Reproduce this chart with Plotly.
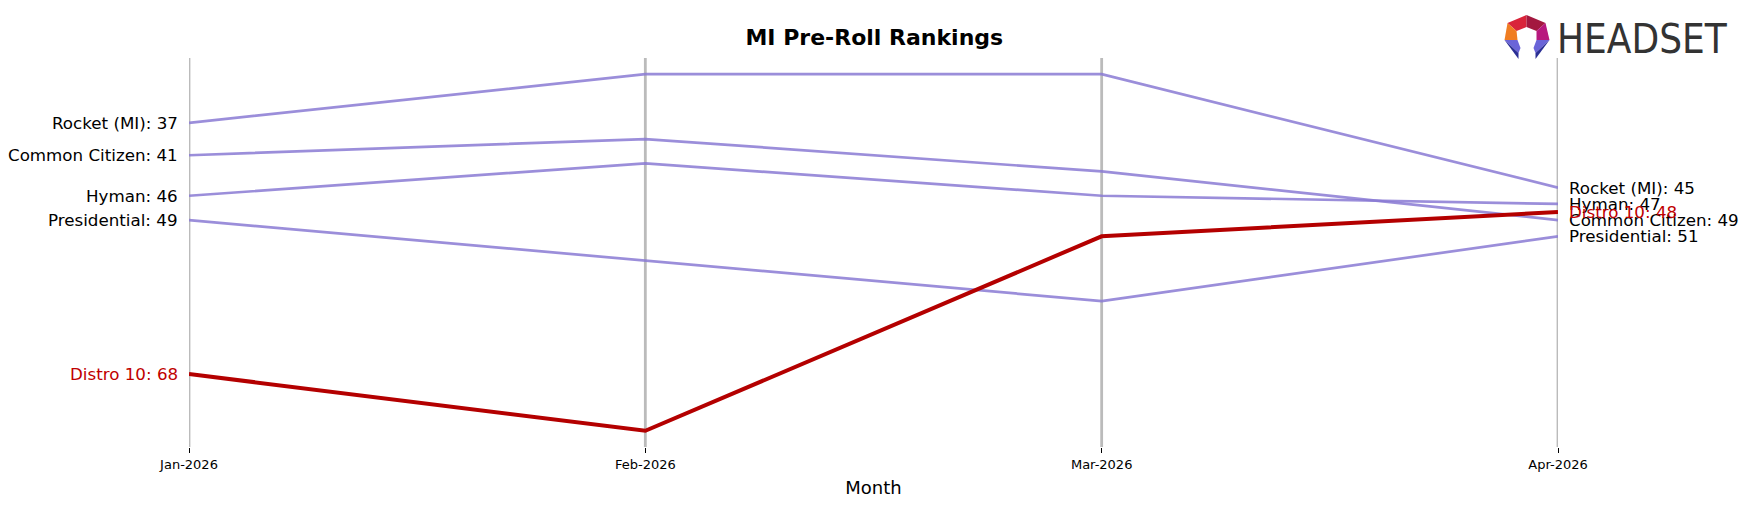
import plotly.graph_objects as go

months = ["Jan-2026", "Feb-2026", "Mar-2026", "Apr-2026"]
brands = ["Rocket (MI)", "Common Citizen", "Hyman", "Presidential", "Distro 10"]
rocket = [37, 31, 31, 45]
common_citizen = [41, 39, 43, 49]
hyman = [46, 42, 46, 47]
presidential = [49, 54, 59, 51]
distro10 = [68, 75, 51, 48]
series = [rocket, common_citizen, hyman, presidential, distro10]
highlight = "Distro 10"

W_FIG, H_FIG = 1748, 507
L, R, T, B = 189, 189.5, 58, 60
PW, PH = W_FIG - L - R, H_FIG - T - B

def px(x):
    return (x - L) / PW

def py(y):
    return 1 - (y - T) / PH

FONT = "DejaVu Sans"
PURPLE = "rgba(138,122,212,0.85)"
RED = "#b40000"

all_vals = [v for s in series for v in s]
ymin, ymax = min(all_vals) - 2, max(all_vals) + 2

fig = go.Figure()

# vertical month guide lines
for m in months:
    fig.add_trace(go.Scatter(x=[m, m], y=[ymin, ymax], mode="lines",
                             line=dict(color="#bbbbbb", width=2.8),
                             hoverinfo="skip", showlegend=False, cliponaxis=False))

order = [b for b in brands if b != highlight] + [highlight]
for b in order:
    vals = series[brands.index(b)]
    hl = b == highlight
    fig.add_trace(go.Scatter(x=months, y=vals, mode="lines", name=b,
                             line=dict(color=RED if hl else PURPLE, width=4 if hl else 2.7),
                             showlegend=False, cliponaxis=False))

annotations = []
for b, vals in zip(brands, series):
    col = "#c00000" if b == highlight else "black"
    annotations.append(dict(x=months[0], y=vals[0], xref="x", yref="y",
                            text=f"{b}: {vals[0]}", showarrow=False,
                            xanchor="right", yanchor="middle", xshift=-9,
                            font=dict(family=FONT, size=16.7, color=col)))
    annotations.append(dict(x=months[-1], y=vals[-1], xref="x", yref="y",
                            text=f"{b}: {vals[-1]}", showarrow=False,
                            xanchor="left", yanchor="middle", xshift=9,
                            font=dict(family=FONT, size=16.7, color=col)))

# logo text
annotations.append(dict(x=px(1555), y=py(39), xref="paper", yref="paper",
                        text="HEADSET", showarrow=False, xanchor="left", yanchor="middle",
                        font=dict(family="Liberation Sans Narrow, DejaVu Sans Condensed, sans-serif",
                                  size=40, color="#333333")))

# logo icon polygons
def poly(pts, color):
    d = "M " + " L ".join(f"{px(x)},{py(y)}" for x, y in pts) + " Z"
    return dict(type="path", xref="paper", yref="paper", path=d,
                fillcolor=color, line=dict(width=0), layer="above")

shapes = [
    poly([(1508, 23), (1527, 15), (1527, 27), (1517, 31)], "#d9243a"),
    poly([(1527, 15), (1546, 23), (1537, 31), (1527, 27)], "#a3183f"),
    poly([(1508, 23), (1517, 31), (1518, 40), (1505, 40)], "#f07d22"),
    poly([(1546, 23), (1550, 40), (1537, 40), (1537, 31)], "#b8187e"),
    poly([(1505, 40), (1518, 40), (1521, 48), (1519, 53)], "#6a64d8"),
    poly([(1505, 40), (1519, 53), (1519, 59)], "#2b2f95"),
    poly([(1550, 40), (1537, 40), (1534, 48), (1536, 53)], "#6a64d8"),
    poly([(1550, 40), (1536, 53), (1536, 59)], "#2b2f95"),
]

fig.update_layout(
    width=W_FIG, height=H_FIG,
    margin=dict(l=L, r=R, t=T, b=B),
    paper_bgcolor="white", plot_bgcolor="white",
    title=dict(text="<b>MI Pre-Roll Rankings</b>", x=px(874), xanchor="center",
               y=1 - 37 / H_FIG, yanchor="middle", yref="container",
               font=dict(family=FONT, size=22, color="black")),
    xaxis=dict(type="category", categoryorder="array", categoryarray=months,
               range=[0, len(months) - 1], showgrid=False, zeroline=False,
               showline=False, ticks="outside", ticklen=5, tickwidth=1, tickcolor="black",
               tickfont=dict(family=FONT, size=13, color="black"),
               title=dict(text="Month", font=dict(family=FONT, size=18, color="black"), standoff=10)),
    yaxis=dict(range=[ymax, ymin], visible=False, showgrid=False, zeroline=False),
    annotations=annotations,
    shapes=shapes,
    hovermode=False,
)

fig.write_html("out.html")
